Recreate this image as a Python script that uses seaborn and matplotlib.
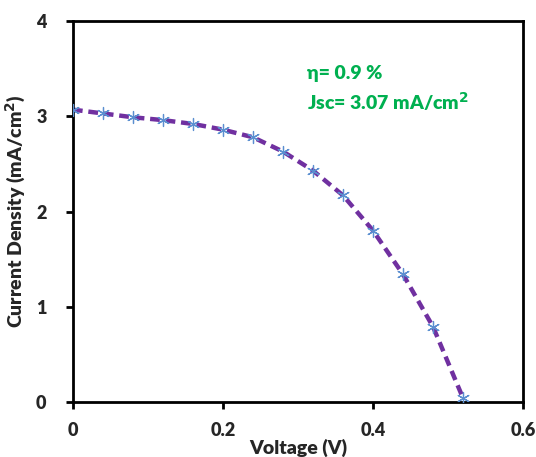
import matplotlib
matplotlib.use("Agg")
import matplotlib.pyplot as plt
import seaborn as sns
import pandas as pd

voltage = [0.00, 0.04, 0.08, 0.12, 0.16, 0.20, 0.24, 0.28, 0.32, 0.36, 0.40, 0.44, 0.48, 0.52]
current = [3.07, 3.03, 2.99, 2.96, 2.92, 2.86, 2.78, 2.63, 2.43, 2.17, 1.80, 1.34, 0.79, 0.04]
x_ticks = [0, 0.2, 0.4, 0.6]
x_tick_labels = ["0", "0.2", "0.4", "0.6"]
y_ticks = [0, 1, 2, 3, 4]

sns.set_theme(style="white")
plt.rcParams['font.family'] = ['Lato', 'DejaVu Sans']

df = pd.DataFrame({"V": voltage, "J": current})

fig = plt.figure(figsize=(5.36, 4.57), dpi=100)
ax = fig.add_axes([0.136, 0.120, 0.840, 0.834])

sns.lineplot(data=df, x="V", y="J", ax=ax, color="#7030a0", linewidth=3.2,
             linestyle=(0, (2.2, 1.3)), zorder=2)
sns.scatterplot(data=df, x="V", y="J", ax=ax, marker=(6, 2, 0), s=75,
                color="#5b8fd0", edgecolor="#5b8fd0", linewidth=0.9, zorder=3)

ax.set_xlim(0, 0.6)
ax.set_ylim(0, 4)
ax.set_xticks(x_ticks)
ax.set_xticklabels(x_tick_labels)
ax.set_yticks(y_ticks)

for s in ax.spines.values():
    s.set_color("black")
    s.set_linewidth(2)
ax.tick_params(axis="both", direction="out", length=5, width=2, color="black",
               labelsize=13, bottom=True, left=True)
ax.tick_params(axis="x", pad=9)
ax.tick_params(axis="y", pad=14)
for lab in ax.get_xticklabels() + ax.get_yticklabels():
    lab.set_fontweight("heavy")

ax.set_xlabel("Voltage (V)", fontsize=14, fontweight="heavy")
ax.set_ylabel("Current Density (mA/cm$^\\mathbf{2}$)", fontsize=14, fontweight="heavy")
ax.xaxis.set_label_coords(0.5, -0.097)
ax.yaxis.set_label_coords(-0.10, 0.5)

ax.text(0.312, 3.45, "η= 0.9 %", color="#00b050", fontsize=14, fontweight="heavy", va="center")
ax.text(0.312, 3.15, "Jsc= 3.07 mA/cm$^\\mathbf{2}$", color="#00b050", fontsize=14,
        fontweight="heavy", va="center")

fig.savefig("out.png", dpi=100)
